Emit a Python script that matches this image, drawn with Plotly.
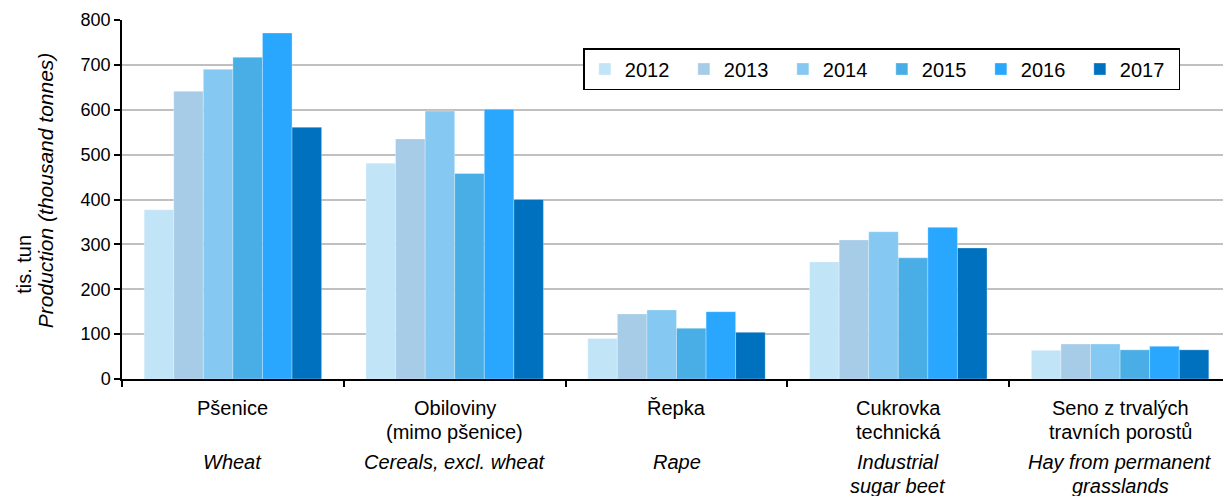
import plotly.graph_objects as go

crops_cz = ['Pšenice', 'Obiloviny<br>(mimo pšenice)', 'Řepka', 'Cukrovka<br>technická',
            'Seno z trvalých<br>travních porostů']
crops_en = ['Wheat', 'Cereals, excl. wheat', 'Rape', 'Industrial<br>sugar beet',
            'Hay from permanent<br>grasslands']
years = ['2012', '2013', '2014', '2015', '2016', '2017']

v2012 = [377, 481, 90, 261, 64]
v2013 = [641, 535, 145, 310, 78]
v2014 = [690, 597, 154, 328, 78]
v2015 = [717, 458, 113, 270, 65]
v2016 = [771, 601, 150, 338, 73]
v2017 = [561, 400, 104, 292, 65]
values = [v2012, v2013, v2014, v2015, v2016, v2017]

colors = ['#C1E4F7', '#A7CCE7', '#85C8F1', '#4AAEE6', '#29A7FF', '#0071BF']

font = 'Liberation Sans, Arial, sans-serif'

fig = go.Figure()
for yr, vals, col in zip(years, values, colors):
    fig.add_trace(go.Bar(x=crops_en, y=vals, name=yr,
                         marker=dict(color=col, line=dict(color='rgba(255,255,255,0.6)', width=0.5))))

# category labels, one annotation per line so the spacing can be set
annotations = []
for en, cz in zip(crops_en, crops_cz):
    for i, line in enumerate(cz.split('<br>')):
        annotations.append(dict(x=en, y=0, xref='x', yref='paper', yanchor='middle',
                                yshift=-(29 + 24 * i), text=line, showarrow=False,
                                font=dict(size=20, color='black')))
    for i, line in enumerate(en.split('<br>')):
        annotations.append(dict(x=en, y=0, xref='x', yref='paper', yanchor='middle',
                                yshift=-(83 + 24 * i), text='<i>' + line + '</i>', showarrow=False,
                                font=dict(size=20, color='black')))
annotations.append(dict(x=0, y=0.318, xref='paper', yref='paper', xanchor='center', yanchor='middle',
                        xshift=-98, textangle=-90, text='tis. tun', showarrow=False,
                        font=dict(size=20, color='black')))
annotations.append(dict(x=0, y=0.526, xref='paper', yref='paper', xanchor='center', yanchor='middle',
                        xshift=-77, textangle=-90, text='<i>Production (thousand tonnes)</i>',
                        showarrow=False, font=dict(size=21, color='black')))

fig.update_layout(
    width=1223, height=488,
    margin=dict(l=114, r=0, t=12, b=117),
    paper_bgcolor='white', plot_bgcolor='white',
    font=dict(family=font, size=18, color='black'),
    barmode='group', bargap=0.2, bargroupgap=0,
    legend=dict(orientation='h', x=0.416, y=0.922, xanchor='left', yanchor='top',
                bordercolor='black', borderwidth=1.5, bgcolor='white',
                entrywidth=54, font=dict(size=20)),
    annotations=annotations,
)
fig.update_xaxes(type='category', showticklabels=False, tickson='boundaries',
                 ticks='outside', ticklen=6, tickcolor='black', tickwidth=1.5,
                 showline=True, linecolor='black', linewidth=1.5, showgrid=False)
fig.update_yaxes(range=[0, 800], dtick=100, showgrid=True, gridcolor='#C0C0C0', gridwidth=1.5,
                 ticks='outside', ticklen=6, tickcolor='black', tickwidth=1.5,
                 showline=True, linecolor='black', linewidth=1.5, zeroline=False)

fig.write_html("out.html")
